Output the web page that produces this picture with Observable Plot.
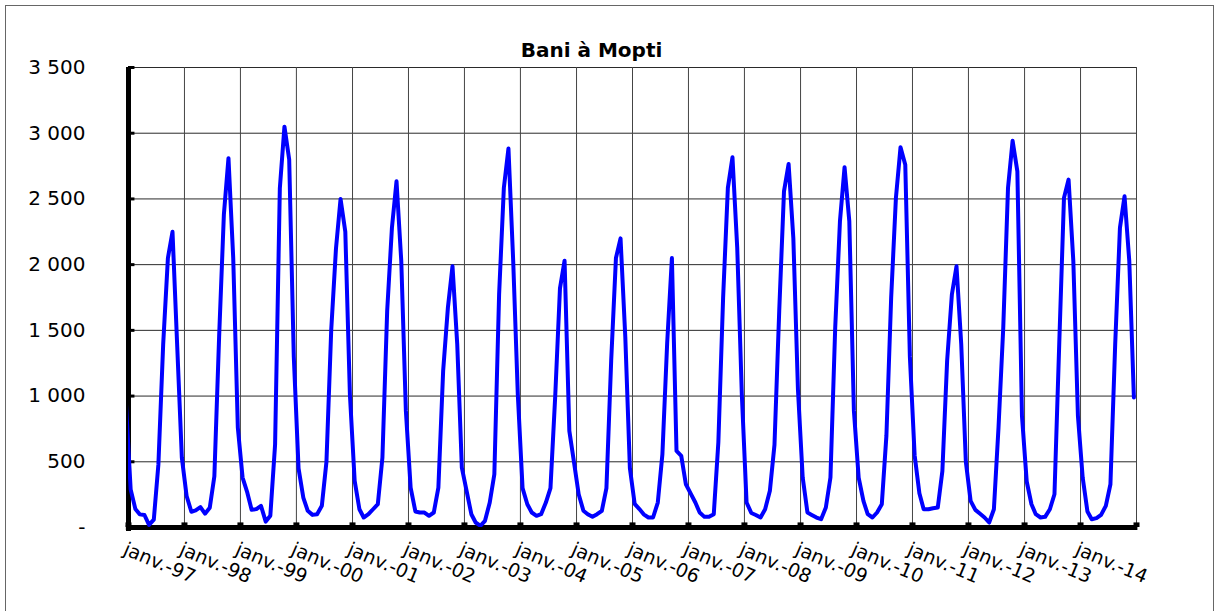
<!DOCTYPE html>
<html><head><meta charset="utf-8">
<script src="https://cdn.jsdelivr.net/npm/d3@7"></script>
<script src="https://cdn.jsdelivr.net/npm/@observablehq/plot@0.6"></script>
<style>
html,body{margin:0;padding:0;background:#fff;}
#wrap{position:relative;width:1219px;height:611px;overflow:hidden;background:#fff;}
#chart{position:absolute;left:0;top:0;}
#frame{position:absolute;left:5px;top:5px;width:1209px;height:700px;border:1px solid #666;box-sizing:border-box;pointer-events:none;}
</style></head><body>
<div id="wrap"><div id="chart"></div><div id="frame"></div></div>
<script>
// Monthly discharge, Bani à Mopti (m3/s), Jan..Dec of each year
const lead1996 = [950]; // Dec 1996 (enters the chart from the left, clipped)
const q1997 = [290, 140, 100, 95, 20, 60, 480, 1390, 2050, 2250, 1370, 530];
const q1998 = [240, 120, 130, 155, 105, 150, 390, 1450, 2380, 2810, 2050, 760];
const q1999 = [380, 265, 135, 140, 165, 45, 90, 630, 2580, 3050, 2800, 1300];
const q2000 = [450, 228, 127, 96, 101, 165, 500, 1500, 2120, 2500, 2250, 1010];
const q2001 = [355, 139, 76, 101, 139, 177, 532, 1646, 2280, 2634, 2026, 887];
const q2002 = [304, 122, 114, 114, 89, 114, 304, 1190, 1672, 1988, 1393, 456];
const q2003 = [279, 101, 38, 13, 51, 190, 405, 1773, 2584, 2883, 2026, 1013];
const q2004 = [300, 177, 114, 89, 101, 190, 300, 1000, 1820, 2030, 735, 500];
const q2005 = [253, 127, 101, 81, 101, 127, 300, 1270, 2050, 2200, 1450, 450];
const q2006 = [180, 140, 100, 76, 76, 190, 557, 1400, 2050, 583, 545, 329];
const q2007 = [260, 190, 114, 81, 81, 101, 650, 1750, 2584, 2817, 2128, 1013];
const q2008 = [190, 110, 95, 76, 139, 280, 630, 1650, 2558, 2766, 2200, 1050];
const q2009 = [380, 114, 96, 76, 63, 152, 380, 1520, 2330, 2741, 2330, 887];
const q2010 = [380, 203, 101, 76, 114, 177, 700, 1750, 2508, 2893, 2760, 1300];
const q2011 = [550, 260, 139, 139, 147, 152, 430, 1270, 1773, 1988, 1393, 500];
const q2012 = [203, 134, 106, 76, 38, 139, 760, 1520, 2584, 2943, 2710, 850];
const q2013 = [350, 177, 101, 76, 81, 139, 253, 1393, 2508, 2647, 2026, 850];
const q2014 = [380, 122, 63, 71, 96, 165, 329, 1393, 2280, 2520, 2026, 990];

const years = [1997, 1998, 1999, 2000, 2001, 2002, 2003, 2004, 2005, 2006, 2007, 2008, 2009, 2010, 2011, 2012, 2013, 2014];
const series = [q1997, q1998, q1999, q2000, q2001, q2002, q2003, q2004, q2005, q2006, q2007, q2008, q2009, q2010, q2011, q2012, q2013, q2014];

const xLabels = ["janv.-97","janv.-98","janv.-99","janv.-00","janv.-01","janv.-02","janv.-03","janv.-04","janv.-05","janv.-06","janv.-07","janv.-08","janv.-09","janv.-10","janv.-11","janv.-12","janv.-13","janv.-14"];
const yTicks = [0, 500, 1000, 1500, 2000, 2500, 3000, 3500];
const yLabels = ["-", "500", "1 000", "1 500", "2 000", "2 500", "3 000", "3 500"];
const title = "Bani à Mopti";

const data = [{date: new Date(Date.UTC(1996, 11, 15)), q: lead1996[0]}];
years.forEach((y, i) => series[i].forEach((v, m) => data.push({date: new Date(Date.UTC(y, m, 15)), q: v})));

const x0 = new Date(Date.UTC(1997, 0, 1));
const x1 = new Date(Date.UTC(2015, 0, 1));
const gridYears = years.concat([2015]).map(y => new Date(Date.UTC(y, 0, 1)));
const labelDates = years.map(y => new Date(Date.UTC(y, 0, 1)));

const chart = Plot.plot({
  width: 1219, height: 611,
  marginLeft: 128, marginRight: 83, marginTop: 67, marginBottom: 84,
  x: {type: "utc", domain: [x0, x1], axis: null},
  y: {domain: [0, 3500], axis: null},
  style: {fontFamily: "'DejaVu Sans', sans-serif", background: "transparent", color: "#000"},
  marks: [
    Plot.ruleY(yTicks, {stroke: "#2a2a2a", strokeWidth: 1}),
    Plot.ruleX(gridYears, {stroke: "#444", strokeWidth: 1}),
    Plot.ruleX([x0], {y1: -30, y2: 3500, stroke: "#000", strokeWidth: 5}),
    Plot.ruleY([0], {x1: new Date(Date.UTC(1996, 11, 18)), x2: new Date(Date.UTC(2015, 0, 10)), stroke: "#000", strokeWidth: 5}),
    Plot.ruleY(yTicks, {x1: x0, x2: new Date(Date.UTC(1997, 1, 12)), stroke: "#000", strokeWidth: 3}),
    Plot.ruleX(gridYears, {y1: 0, y2: 35, stroke: "#000", strokeWidth: 6}),
    Plot.line(data, {x: "date", y: "q", stroke: "#0000ff", strokeWidth: 4, strokeLinejoin: "round", clip: true}),
    Plot.text(yTicks, {y: d => d, text: (d, i) => yLabels[i], frameAnchor: "left", dx: -43, textAnchor: "end", fontSize: 20, fill: "#000"}),
    Plot.text(labelDates, {x: d => d, text: (d, i) => xLabels[i], frameAnchor: "bottom", textAnchor: "start", lineAnchor: "top", rotate: 23, dx: -1, dy: 14, fontSize: 19, fill: "#000"}),
    Plot.text([title], {text: d => d, frameAnchor: "top", dx: -41, dy: -25, fontWeight: "bold", fontSize: 20, fill: "#000"})
  ]
});
document.getElementById("chart").appendChild(chart);
</script></body></html>
